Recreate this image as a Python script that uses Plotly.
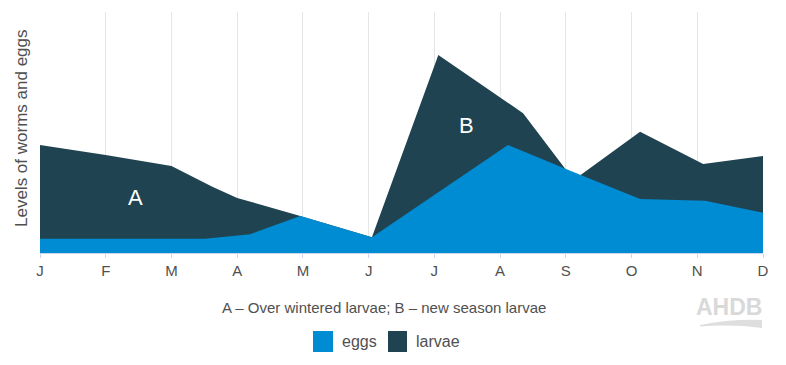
import plotly.graph_objects as go

# ---- data ----
month_labels = ["J", "F", "M", "A", "M", "J", "J", "A", "S", "O", "N", "D"]
month_positions = list(range(12))

larvae_x = [0, 1.0, 2.0, 2.63, 3.0, 3.96, 5.05, 6.06, 7.35, 8.12, 9.13, 10.09, 11.0]
larvae_y = [44.8, 40.7, 36.1, 27.4, 22.8, 15.4, 6.5, 82.2, 58.0, 30.3, 50.3, 36.9, 40.2]

eggs_x = [0, 2.51, 3.2, 3.96, 5.05, 7.12, 8.04, 9.13, 10.12, 11.0]
eggs_y = [5.9, 5.9, 7.8, 15.4, 6.5, 44.8, 34.4, 22.4, 21.7, 16.7]

region_labels = ["A", "B"]
region_x = [1.45, 6.49]
region_y = [23.2, 52.7]

EGGS = "#008cd2"
LARVAE = "#1f4350"
TEXT = "#505050"
FONT = "Liberation Sans, Arial, sans-serif"

W, H = 786, 365
L, R, T, B = 40, 23, 12, 112
PW, PH = W - L - R, H - T - B


def px(x):
    return (x - L) / PW


def py(y):
    return (H - B - y) / PH


fig = go.Figure()
fig.add_trace(go.Scatter(x=larvae_x, y=larvae_y, mode="lines", fill="tozeroy",
                         fillcolor=LARVAE, line=dict(color=LARVAE, width=0),
                         name="larvae", showlegend=False, hoverinfo="skip"))
fig.add_trace(go.Scatter(x=eggs_x, y=eggs_y, mode="lines", fill="tozeroy",
                         fillcolor=EGGS, line=dict(color=EGGS, width=0),
                         name="eggs", showlegend=False, hoverinfo="skip"))

annotations = []
for lab, xv, yv in zip(region_labels, region_x, region_y):
    annotations.append(dict(x=xv, y=yv, xref="x", yref="y", text=lab, showarrow=False,
                            xanchor="center", yanchor="middle",
                            font=dict(family=FONT, size=22, color="white")))


def note(x, y, text, size, color=TEXT, xanchor="center", **kw):
    annotations.append(dict(x=px(x), y=py(y), xref="paper", yref="paper", text=text,
                            showarrow=False, xanchor=xanchor, yanchor="middle",
                            font=dict(family=FONT, size=size, color=color), **kw))


note(22, 128, "Levels of worms and eggs", 17, textangle=-90)
note(384, 307, "A – Over wintered larvae; B – new season larvae", 15)
note(340, 341, "eggs", 16, xanchor="left")
note(414, 341, "larvae", 16, xanchor="left")
note(729, 307, "<b>AHDB</b>", 23, color="#d9d9d9")

shapes = [
    dict(type="rect", xref="paper", yref="paper", x0=px(313), x1=px(333), y0=py(331), y1=py(352),
         fillcolor=EGGS, line=dict(width=0)),
    dict(type="rect", xref="paper", yref="paper", x0=px(388), x1=px(407), y0=py(331), y1=py(352),
         fillcolor=LARVAE, line=dict(width=0)),
]
sw = [(700, 325), (730, 319), (762, 320), (762, 328), (732, 324), (700, 326.5)]
p = [(px(a), py(b)) for a, b in sw]
path = (f"M {p[0][0]},{p[0][1]} Q {p[1][0]},{p[1][1]} {p[2][0]},{p[2][1]} "
        f"L {p[3][0]},{p[3][1]} Q {p[4][0]},{p[4][1]} {p[5][0]},{p[5][1]} Z")
shapes.append(dict(type="path", xref="paper", yref="paper", path=path,
                   fillcolor="#dedede", line=dict(width=0)))

fig.update_layout(
    width=W, height=H,
    margin=dict(l=L, r=R, t=T, b=B),
    paper_bgcolor="white", plot_bgcolor="white",
    showlegend=False,
    annotations=annotations,
    shapes=shapes,
    xaxis=dict(range=[0, 11], tickvals=month_positions, ticktext=month_labels,
               showgrid=True, gridcolor="#e6e6e6", gridwidth=1,
               showline=True, linecolor="#ccd6eb", linewidth=1,
               ticks="outside", ticklen=4, tickcolor="#ccd6eb",
               tickfont=dict(family=FONT, size=15, color=TEXT),
               zeroline=False, fixedrange=True),
    yaxis=dict(range=[0, 100], showgrid=False, showticklabels=False, zeroline=False,
               showline=False, ticks="", fixedrange=True),
)

fig.write_html("out.html", config={"displayModeBar": False},
               post_script="document.body.style.margin='0px';")
